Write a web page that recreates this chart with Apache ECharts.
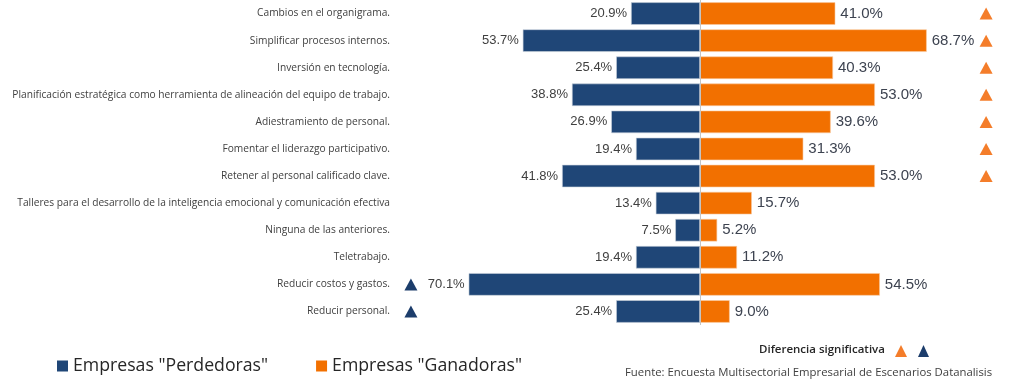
<!DOCTYPE html>
<html>
<head>
<meta charset="utf-8">
<script src="https://cdn.jsdelivr.net/npm/echarts@6/dist/echarts.min.js"></script>
<style>html,body{margin:0;padding:0;background:#fff;}#c{width:1024px;height:385px;}</style>
</head>
<body>
<div id="c"></div>
<script>
var categories = [
  "Cambios en el organigrama.",
  "Simplificar procesos internos.",
  "Inversión en tecnología.",
  "Planificación estratégica como herramienta de alineación del equipo de trabajo.",
  "Adiestramiento de personal.",
  "Fomentar el liderazgo participativo.",
  "Retener al personal calificado clave.",
  "Talleres para el desarrollo de la inteligencia emocional y comunicación efectiva",
  "Ninguna de las anteriores.",
  "Teletrabajo.",
  "Reducir costos y gastos.",
  "Reducir personal."
];
var perdedoras = [20.9, 53.7, 25.4, 38.8, 26.9, 19.4, 41.8, 13.4, 7.5, 19.4, 70.1, 25.4];
var ganadoras  = [41.0, 68.7, 40.3, 53.0, 39.6, 31.3, 53.0, 15.7, 5.2, 11.2, 54.5, 9.0];
// significant-difference flags (1 = triangle shown)
var sigGanadoras  = [1, 1, 1, 1, 1, 1, 1, 0, 0, 0, 0, 0];
var sigPerdedoras = [0, 0, 0, 0, 0, 0, 0, 0, 0, 0, 1, 1];
var seriesNames = ['Empresas "Perdedoras"', 'Empresas "Ganadoras"'];

var BLUE = '#1f4677', ORANGE = '#f27000';
var TRI_ORANGE = '#f47d2a', TRI_BLUE = '#1c3d6b';
var MARK_X_G = 86.7, MARK_X_P = -87.6;

var chart = echarts.init(document.getElementById('c'), null, {renderer: 'canvas'});

var sigG = [], sigP = [];
categories.forEach(function (c, i) {
  if (sigGanadoras[i]) sigG.push([MARK_X_G, c]);
  if (sigPerdedoras[i]) sigP.push([MARK_X_P, c]);
});

var option = {
  animation: false,
  backgroundColor: '#ffffff',
  grid: {left: 403, right: 27, top: -2.6, height: 327.6, containLabel: false},
  xAxis: {type: 'value', min: -90, max: 90, show: false},
  yAxis: {
    type: 'category', data: categories, inverse: true,
    axisLine: {show: false}, axisTick: {show: false},
    axisLabel: {margin: 13, fontSize: 10.2, fontFamily: 'Open Sans', color: '#404040'}
  },
  legend: {
    data: seriesNames, left: 52, top: 352, icon: 'rect',
    itemWidth: 11, itemHeight: 11, itemGap: 48,
    itemStyle: {borderWidth: 0},
    textStyle: {fontSize: 17.7, fontFamily: 'Open Sans', color: '#262626'}
  },
  series: [
    {
      name: seriesNames[0], type: 'bar', barGap: '-100%', barCategoryGap: '17%',
      data: perdedoras.map(function (v) { return -v; }),
      itemStyle: {color: BLUE, borderColor: '#c9d1dc', borderWidth: 0.6},
      label: {show: true, position: 'left', distance: 4, fontSize: 13,
        fontFamily: 'Liberation Sans', color: '#404040',
        formatter: function (p) { return Math.abs(p.value).toFixed(1) + '%'; }},
      markLine: {silent: true, symbol: 'none', label: {show: false},
        lineStyle: {color: '#c4c4c4', type: 'solid', width: 1},
        data: [{xAxis: 0}]}
    },
    {
      name: seriesNames[1], type: 'bar', barCategoryGap: '17%',
      data: ganadoras,
      itemStyle: {color: ORANGE, borderColor: '#f8c9a0', borderWidth: 0.6},
      label: {show: true, position: 'right', distance: 5, fontSize: 15,
        fontFamily: 'Liberation Sans', color: '#3d4350',
        formatter: function (p) { return p.value.toFixed(1) + '%'; }}
    },
    {
      type: 'scatter', data: sigG, symbol: 'triangle', symbolSize: [13, 12],
      itemStyle: {color: TRI_ORANGE, opacity: 1}, clip: false, silent: true
    },
    {
      type: 'scatter', data: sigP, symbol: 'triangle', symbolSize: [13, 12],
      itemStyle: {color: TRI_BLUE, opacity: 1}, clip: false, silent: true
    }
  ],
  graphic: [
    {type: 'text', left: 759, top: 344,
      style: {text: 'Diferencia significativa', fontSize: 11.5, fontWeight: 600,
        fontFamily: 'Open Sans', fill: '#262626'}},
    {type: 'polygon', shape: {points: [[901, 345], [895, 357], [907, 357]]},
      style: {fill: TRI_ORANGE}},
    {type: 'polygon', shape: {points: [[923.5, 345], [918, 357], [929, 357]]},
      style: {fill: TRI_BLUE}},
    {type: 'text', left: 625, top: 367,
      style: {text: 'Fuente: Encuesta Multisectorial Empresarial de Escenarios Datanalisis',
        fontSize: 11.35, fontFamily: 'Open Sans', fill: '#404040'}}
  ]
};
chart.setOption(option);
</script>
</body>
</html>
